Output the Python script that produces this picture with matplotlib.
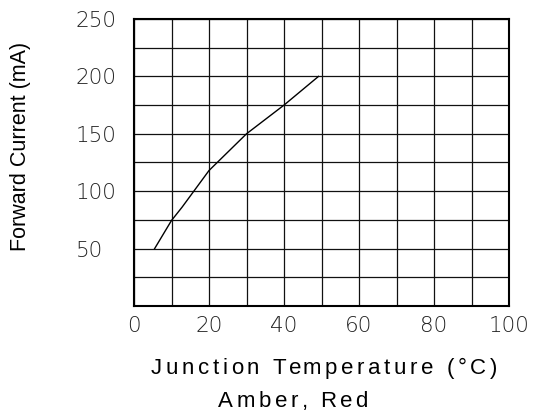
import matplotlib
matplotlib.use("Agg")
import matplotlib.pyplot as plt
from matplotlib.transforms import IdentityTransform

# Forward current derating curve (Amber, Red)
temp_c = [5.5, 10, 12.8, 20, 30, 40, 49.2]
current_ma = [50, 74.5, 86, 118, 150, 175, 200]

x_ticks = [0, 20, 40, 60, 80, 100]
y_ticks = [50, 100, 150, 200, 250]

label_font = ["Liberation Sans", "DejaVu Sans"]
tick_font = "DejaVu Sans"


def tracked_text(fig, x_center, baseline, s, spacing, **kw):
    """Draw a string one character at a time with extra letter spacing (pixel coords)."""
    renderer = fig.canvas.get_renderer()

    def width(txt):
        t = fig.text(0, 0, txt, transform=IdentityTransform(), **kw)
        w = t.get_window_extent(renderer).width
        t.remove()
        return w

    bar = width("|")
    offsets = [width(s[:i] + "|") - bar if i else 0.0 for i in range(len(s))]
    total = width(s) + spacing * (len(s) - 1)
    x0 = x_center - total / 2
    for i, ch in enumerate(s):
        if ch == " ":
            continue
        fig.text(x0 + offsets[i] + spacing * i, baseline, ch,
                 transform=IdentityTransform(), ha="left", va="baseline", **kw)


fig = plt.figure(figsize=(5.33, 4.16), dpi=100)
ax = fig.add_axes([134 / 533, 110 / 416, 375 / 533, 287 / 416])

ax.plot(temp_c, current_ma, color="black", linewidth=1.0)

ax.set_xlim(0, 100)
ax.set_ylim(0, 250)
ax.set_xticks(range(0, 101, 10))
ax.set_yticks(range(0, 251, 25))
ax.grid(True, color="#111111", linewidth=0.9)
ax.set_axisbelow(True)

# only every other gridline carries a label
ax.set_xticklabels([str(v) if v in x_ticks else "" for v in range(0, 101, 10)])
ax.set_yticklabels([str(v) if v in y_ticks else "" for v in range(0, 251, 25)])
ax.tick_params(axis="both", length=0, labelsize=15.5, labelcolor="#222222")
ax.tick_params(axis="x", pad=7)
ax.tick_params(axis="y", pad=42)
for lbl in ax.get_yticklabels():
    lbl.set_horizontalalignment("left")
for lbl in ax.get_xticklabels() + ax.get_yticklabels():
    lbl.set_family(tick_font)
    lbl.set_fontweight("light")

for sp in ax.spines.values():
    sp.set_linewidth(1.5)
    sp.set_color("black")

fig.text(21 / 533, 1 - 146 / 416, "Forward Current (mA)", rotation=90,
         ha="center", va="center", fontsize=15.5, family=label_font)

tracked_text(fig, 324, 416 - 374, "Junction Temperature (°C)", 3.6,
             fontsize=16, family=label_font)
tracked_text(fig, 293, 416 - 407, "Amber, Red", 3.6,
             fontsize=16, family=label_font)

fig.savefig("out.png", dpi=100)
